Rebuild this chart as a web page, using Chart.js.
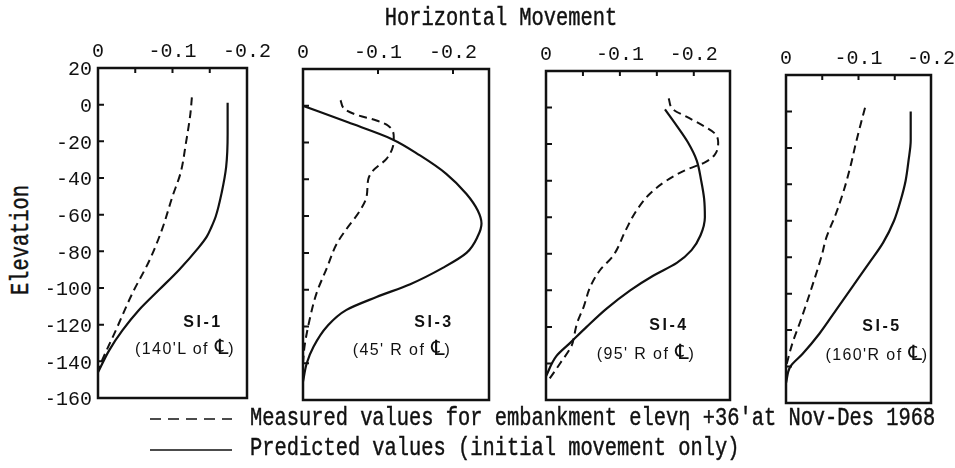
<!DOCTYPE html>
<html>
<head>
<meta charset="utf-8">
<script src="https://cdn.jsdelivr.net/npm/chart.js@4.4.1/dist/chart.umd.min.js"></script>
<style>
  html, body { margin: 0; padding: 0; background: #fff; }
  #page { position: relative; width: 955px; height: 468px; overflow: hidden; background: #fff; color: #111; }
  .panel { position: absolute; }
  .mono { position: absolute; white-space: nowrap; font-family: "Liberation Mono", monospace; font-size: 20.4px; line-height: 1; -webkit-text-stroke: 0.35px #111; }
  .note { position: absolute; white-space: nowrap; font-family: "Liberation Sans", Arial, sans-serif; font-size: 16px; line-height: 1; letter-spacing: 1.4px; transform: translate(-50%, -50%); }
  .note b { font-weight: bold; letter-spacing: 2.5px; }
  .cl { font-family: "DejaVu Sans", sans-serif; font-size: 21px; letter-spacing: 0; }
</style>
</head>
<body>
<div id="page">
  <div class="panel" id="p1"><canvas id="c1"></canvas></div>
  <div class="panel" id="p2"><canvas id="c2"></canvas></div>
  <div class="panel" id="p3"><canvas id="c3"></canvas></div>
  <div class="panel" id="p4"><canvas id="c4"></canvas></div>

  <div class="mono" style="left:501px;top:19px;transform:translate(-50%,-50%) scaleY(1.3);">Horizontal Movement</div>
  <div class="mono" style="left:22px;top:240px;transform:translate(-50%,-50%) rotate(-90deg) scaleY(1.3);">Elevation</div>

  <div class="note" style="left:203px;top:322px;"><b>SI-1</b></div>
  <div class="note" style="left:185px;top:347px;">(140'L of <span class="cl">℄</span>)</div>
  <div class="note" style="left:434px;top:322px;"><b>SI-3</b></div>
  <div class="note" style="left:402px;top:348px;">(45' R of <span class="cl">℄</span>)</div>
  <div class="note" style="left:669px;top:325px;"><b>SI-4</b></div>
  <div class="note" style="left:646px;top:352px;">(95' R of <span class="cl">℄</span>)</div>
  <div class="note" style="left:882px;top:326px;"><b>SI-5</b></div>
  <div class="note" style="left:877px;top:353px;">(160'R of <span class="cl">℄</span>)</div>

  <svg style="position:absolute;left:0;top:0;" width="955" height="468">
    <line x1="150" y1="419" x2="232" y2="419" stroke="#111" stroke-width="1.6" stroke-dasharray="11 7"/>
    <line x1="150" y1="450" x2="232" y2="450" stroke="#111" stroke-width="1.6"/>
  </svg>
  <div class="mono" style="left:250px;top:419px;transform:translateY(-50%) scaleY(1.3);">Measured values for embankment elevη +36'at Nov-Des 1968</div>
  <div class="mono" style="left:250px;top:449px;transform:translateY(-50%) scaleY(1.3);">Predicted values (initial movement only)</div>
</div>

<script>
// Elevation axis (ft) shared by all four inclinometers
const elevMin = -160;
const elevMax = 20;
const elevStep = 20;
// Labelled horizontal-movement ticks
const moveLabels = [0, -0.1, -0.2];

// SI-1 (140'L of centerline)
const si1MeasuredMove = [-0.126, -0.124, -0.118, -0.111, -0.100, -0.086, -0.069, -0.046, -0.024, -0.006, -0.001];
const si1MeasuredElev = [4, -5, -21, -37, -50, -68, -85, -103, -123, -139, -144];
const si1PredictedMove = [-0.174, -0.174, -0.172, -0.166, -0.158, -0.152, -0.146, -0.135, -0.109, -0.082, -0.055, -0.033, -0.015, 0];
const si1PredictedElev = [1, -16, -34, -48, -61, -67, -72, -78, -90, -101, -112, -123, -134, -146];

// SI-3 (45' R of centerline)
const si3MeasuredMove = [-0.050, -0.056, -0.072, -0.098, -0.114, -0.121, -0.120, -0.111, -0.094, -0.087, -0.085, -0.076, -0.058, -0.045, -0.032, -0.018, -0.009, -0.002, 0];
const si3MeasuredElev = [3, -2, -5, -8, -11, -17, -22, -29, -35, -40, -49, -57, -67, -75, -88, -102, -116, -131, -140];
const si3PredictedMove = [0, -0.060, -0.118, -0.156, -0.191, -0.218, -0.233, -0.238, -0.233, -0.218, -0.187, -0.143, -0.098, -0.058, -0.032, -0.014, -0.005, 0];
const si3PredictedElev = [0, -9, -18, -27, -37, -48, -57, -64, -71, -80, -88, -97, -104, -111, -120, -131, -140, -150];

// SI-4 (95' R of centerline)
const si4MeasuredMove = [-0.166, -0.172, -0.190, -0.213, -0.228, -0.233, -0.228, -0.215, -0.190, -0.163, -0.141, -0.123, -0.108, -0.091, -0.073, -0.060, -0.051, -0.042, -0.038, -0.035, -0.019, -0.002];
const si4MeasuredElev = [5, -1, -5, -10, -14, -19, -26, -30, -34, -40, -47, -56, -67, -81, -89, -98, -109, -118, -125, -130, -140, -150];
const si4PredictedMove = [-0.161, -0.177, -0.192, -0.204, -0.210, -0.214, -0.215, -0.209, -0.197, -0.177, -0.145, -0.114, -0.082, -0.055, -0.032, -0.014, 0];
const si4PredictedElev = [-1, -10, -19, -29, -40, -50, -60, -70, -78, -85, -92, -100, -110, -120, -129, -136, -147];

// SI-5 (160'R of centerline)
const si5MeasuredMove = [-0.109, -0.103, -0.096, -0.089, -0.080, -0.069, -0.055, -0.050, -0.036, -0.020, -0.009, 0];
const si5MeasuredElev = [2, -7, -18, -30, -43, -56, -70, -78, -96, -115, -127, -140];
const si5PredictedMove = [-0.172, -0.172, -0.169, -0.165, -0.158, -0.149, -0.134, -0.115, -0.092, -0.069, -0.046, -0.023, -0.006, 0];
const si5PredictedElev = [0, -16, -27, -38, -49, -60, -72, -83, -96, -109, -122, -133, -140, -149];

const INK = '#111';
const MONO = { family: '"Liberation Mono", monospace', size: 20 };

// Frame around the plot area plus short inward tick marks
const frameTicks = {
  id: 'frameTicks',
  afterDatasetsDraw(chart, args, opts) {
    const { ctx, chartArea: a, scales: { x, y } } = chart;
    ctx.save();
    ctx.strokeStyle = INK;
    ctx.lineWidth = 2;
    ctx.beginPath();
    (opts.xMarks || []).forEach(v => {
      const px = x.getPixelForValue(v);
      ctx.moveTo(px, a.top); ctx.lineTo(px, a.top + 5);
    });
    for (let v = elevMax - elevStep; v > elevMin; v -= elevStep) {
      const py = y.getPixelForValue(v);
      ctx.moveTo(a.left, py); ctx.lineTo(a.left + 6, py);
    }
    ctx.stroke();
    ctx.lineWidth = 2.5;
    ctx.strokeRect(a.left, a.top, a.right - a.left, a.bottom - a.top);
    ctx.restore();
  }
};

const pairs = (xs, ys) => xs.map((v, i) => ({ x: v, y: ys[i] }));

function buildPanel(cfg) {
  const leftSpace = cfg.showElev ? 50 : 30;
  const topSpace = 40, rightSpace = 30, bottomSpace = 20;
  const box = document.getElementById(cfg.box);
  box.style.left = (cfg.rect.left - leftSpace) + 'px';
  box.style.top = (cfg.rect.top - topSpace) + 'px';
  box.style.width = (cfg.rect.right - cfg.rect.left + leftSpace + rightSpace) + 'px';
  box.style.height = (cfg.rect.bottom - cfg.rect.top + topSpace + bottomSpace) + 'px';

  // profiles are interpolated down the elevation axis
  const profile = { borderColor: INK, pointRadius: 0, fill: false, cubicInterpolationMode: 'monotone' };

  return new Chart(document.getElementById(cfg.canvas), {
    type: 'line',
    data: {
      datasets: [
        Object.assign({ label: 'Measured', data: pairs(cfg.mMove, cfg.mElev), borderWidth: 2, borderDash: [8, 5] }, profile),
        Object.assign({ label: 'Predicted', data: pairs(cfg.pMove, cfg.pElev), borderWidth: 2.2 }, profile)
      ]
    },
    options: {
      indexAxis: 'y',
      responsive: true,
      maintainAspectRatio: false,
      animation: false,
      devicePixelRatio: 1,
      layout: { padding: { left: cfg.showElev ? 0 : 30, right: rightSpace, top: 0, bottom: bottomSpace } },
      plugins: {
        legend: { display: false },
        tooltip: { enabled: false },
        frameTicks: { xMarks: cfg.xMarks }
      },
      scales: {
        x: {
          type: 'linear', position: 'top', min: cfg.moveMin, max: 0, reverse: true,
          afterBuildTicks: s => { s.ticks = moveLabels.filter(v => v >= cfg.moveMin - 1e-9).map(v => ({ value: v })); },
          afterFit: s => { s.height = topSpace; },
          grid: { display: false, drawTicks: false },
          border: { display: false },
          ticks: { font: MONO, color: INK, padding: 4, maxRotation: 0, autoSkip: false,
                   callback: v => (v === 0 ? '0' : v.toFixed(1)) }
        },
        y: {
          type: 'linear', position: 'left', min: elevMin, max: elevMax, display: cfg.showElev,
          afterFit: s => { s.width = cfg.showElev ? 50 : 0; },
          grid: { display: false, drawTicks: false },
          border: { display: false },
          ticks: { stepSize: elevStep, font: MONO, color: INK, padding: 6, labelOffset: 2 }
        }
      }
    },
    plugins: [frameTicks]
  });
}

buildPanel({ box: 'p1', canvas: 'c1', showElev: true,
  rect: { left: 98, top: 68, right: 247, bottom: 398 }, moveMin: -0.2,
  xMarks: [-0.05, -0.1, -0.15],
  mMove: si1MeasuredMove, mElev: si1MeasuredElev, pMove: si1PredictedMove, pElev: si1PredictedElev });

buildPanel({ box: 'p2', canvas: 'c2', showElev: false,
  rect: { left: 303, top: 69, right: 489, bottom: 400 }, moveMin: -0.248,
  xMarks: [-0.1, -0.2],
  mMove: si3MeasuredMove, mElev: si3MeasuredElev, pMove: si3PredictedMove, pElev: si3PredictedElev });

buildPanel({ box: 'p3', canvas: 'c3', showElev: false,
  rect: { left: 546, top: 71, right: 730, bottom: 400 }, moveMin: -0.249,
  xMarks: [-0.05, -0.1, -0.15, -0.2],
  mMove: si4MeasuredMove, mElev: si4MeasuredElev, pMove: si4PredictedMove, pElev: si4PredictedElev });

buildPanel({ box: 'p4', canvas: 'c4', showElev: false,
  rect: { left: 786, top: 75, right: 931, bottom: 403 }, moveMin: -0.2,
  xMarks: [-0.05, -0.1, -0.15],
  mMove: si5MeasuredMove, mElev: si5MeasuredElev, pMove: si5PredictedMove, pElev: si5PredictedElev });
</script>
</body>
</html>
